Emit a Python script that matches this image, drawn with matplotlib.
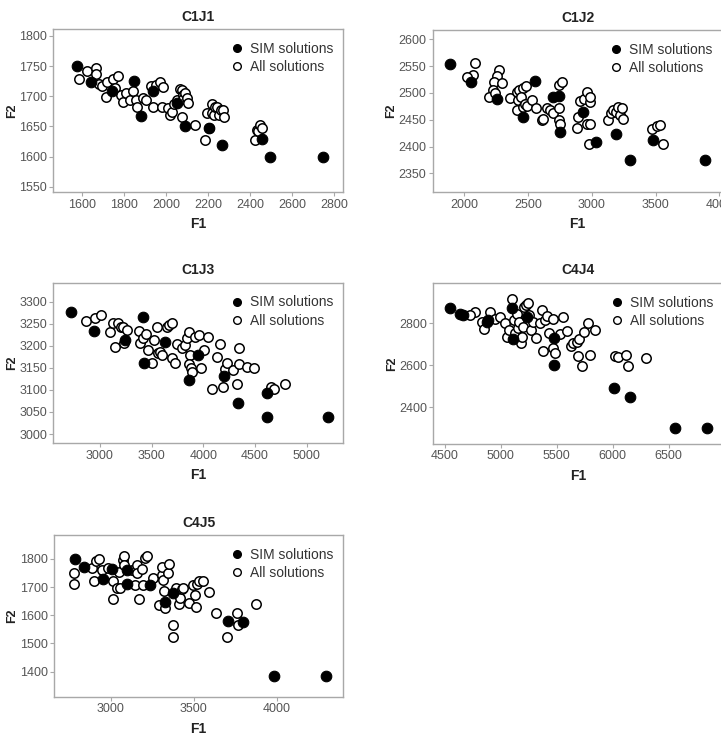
import matplotlib
matplotlib.use("Agg")
import matplotlib.pyplot as plt
from matplotlib.lines import Line2D

plt.rcParams['font.family'] = ['Liberation Sans', 'DejaVu Sans']

# ---------------- C1J1 ----------------
c1j1_sim_f1 = [1576, 1643, 1743, 1849, 1880, 1940, 2051, 2091, 2206, 2265, 2455, 2495, 2745]
c1j1_sim_f2 = [1750, 1723, 1709, 1726, 1668, 1708, 1689, 1650, 1648, 1619, 1629, 1600, 1600]
c1j1_all_f1 = [1587, 1627, 1667, 1667, 1681, 1698, 1716, 1722, 1750, 1774, 1758, 1785, 1798,
               1811, 1830, 1842, 1858, 1864, 1893, 1904, 1928, 1940, 1953, 1972, 1980, 1988,
               2009, 2020, 2028, 2039, 2051, 2067, 2075, 2080, 2083, 2092, 2099, 2107, 2077,
               2138, 2184, 2194, 2206, 2218, 2221, 2229, 2235, 2245, 2254, 2260, 2270, 2276,
               2425, 2431, 2439, 2447, 2455]
c1j1_all_f2 = [1728, 1742, 1747, 1737, 1721, 1717, 1699, 1724, 1728, 1733, 1713, 1703, 1691,
               1706, 1694, 1709, 1694, 1683, 1698, 1694, 1717, 1683, 1719, 1723, 1683, 1715,
               1680, 1669, 1674, 1687, 1694, 1712, 1710, 1703, 1695, 1705, 1698, 1689, 1666,
               1653, 1627, 1672, 1647, 1672, 1687, 1669, 1683, 1682, 1669, 1677, 1678, 1666,
               1627, 1645, 1642, 1652, 1647]

# ---------------- C1J2 ----------------
c1j2_sim_f1 = [1890, 2052, 2256, 2556, 2465, 2699, 2744, 2752, 2934, 3031, 3190, 3300, 3482, 3887]
c1j2_sim_f2 = [2553, 2520, 2488, 2522, 2455, 2493, 2495, 2428, 2465, 2409, 2424, 2376, 2413, 2376]
c1j2_all_f1 = [2086, 2068, 2026, 2277, 2256, 2235, 2295, 2224, 2198, 2243, 2360, 2412, 2433,
               2465, 2483, 2412, 2425, 2446, 2459, 2478, 2491, 2530, 2564, 2608, 2621, 2647,
               2673, 2694, 2746, 2746, 2764, 2744, 2752, 2882, 2895, 2908, 2939, 2960, 2986,
               2986, 2960, 2986, 2981, 3130, 3148, 3169, 3190, 3208, 3221, 3234, 3247, 3472,
               3508, 3534, 3560]
c1j2_all_f2 = [2556, 2533, 2529, 2542, 2531, 2521, 2518, 2506, 2493, 2500, 2490, 2502, 2506,
               2510, 2513, 2468, 2486, 2493, 2474, 2480, 2475, 2486, 2471, 2449, 2452, 2471,
               2468, 2463, 2471, 2514, 2521, 2449, 2442, 2434, 2455, 2485, 2488, 2502, 2483,
               2493, 2442, 2442, 2405, 2450, 2462, 2469, 2465, 2473, 2459, 2471, 2452, 2432,
               2438, 2441, 2405]

# ---------------- C1J3 ----------------
c1j3_sim_f1 = [2716, 2942, 3242, 3413, 3429, 3629, 3865, 3945, 4203, 4339, 4613, 4613, 5210]
c1j3_sim_f2 = [3277, 3234, 3213, 3266, 3162, 3209, 3123, 3179, 3132, 3070, 3092, 3039, 3039]
c1j3_all_f1 = [2865, 2952, 3010, 3097, 3123, 3145, 3177, 3200, 3219, 3258, 3232, 3381, 3387,
               3419, 3442, 3468, 3500, 3523, 3548, 3565, 3581, 3603, 3645, 3671, 3694, 3694,
               3726, 3742, 3790, 3823, 3839, 3865, 3871, 3865, 3877, 3887, 3919, 3958, 3977,
               4006, 4048, 4081, 4129, 4161, 4187, 4210, 4226, 4284, 4323, 4348, 4348, 4419,
               4494, 4652, 4684, 4790]
c1j3_all_f2 = [3256, 3262, 3270, 3232, 3251, 3198, 3251, 3243, 3242, 3236, 3206, 3234, 3206,
               3217, 3227, 3190, 3162, 3213, 3243, 3183, 3187, 3179, 3242, 3247, 3252, 3172,
               3160, 3204, 3194, 3202, 3217, 3232, 3179, 3159, 3149, 3141, 3221, 3224, 3149,
               3190, 3221, 3101, 3175, 3204, 3107, 3147, 3160, 3145, 3113, 3159, 3194, 3151,
               3149, 3107, 3101, 3113]

# ---------------- C4J4 ----------------
c4j4_sim_f1 = [4545, 4634, 4664, 4873, 4888, 5097, 5112, 5231, 5470, 5476, 6013, 6151, 6551, 6837]
c4j4_sim_f2 = [2871, 2844, 2840, 2808, 2816, 2871, 2724, 2832, 2729, 2602, 2490, 2448, 2303, 2303]
c4j4_all_f1 = [4769, 4724, 4828, 4849, 4903, 4948, 4993, 5037, 5052, 5076, 5097, 5118, 5127,
               5142, 5157, 5166, 5178, 5187, 5201, 5207, 5225, 5246, 5255, 5267, 5291, 5315,
               5351, 5366, 5375, 5395, 5410, 5434, 5464, 5464, 5484, 5524, 5554, 5594, 5624,
               5648, 5679, 5694, 5685, 5724, 5739, 5774, 5792, 5837, 6019, 6049, 6122, 6137,
               6300]
c4j4_all_f2 = [2856, 2840, 2808, 2771, 2856, 2819, 2832, 2800, 2737, 2768, 2914, 2816, 2752,
               2844, 2776, 2808, 2705, 2737, 2784, 2879, 2887, 2895, 2840, 2768, 2808, 2729,
               2803, 2863, 2670, 2816, 2835, 2756, 2819, 2681, 2657, 2749, 2832, 2765, 2692,
               2705, 2713, 2724, 2644, 2597, 2760, 2800, 2649, 2768, 2644, 2638, 2649, 2597,
               2637]

# ---------------- C4J5 ----------------
c4j5_sim_f1 = [2785, 2839, 2952, 3006, 3096, 3096, 3237, 3327, 3377, 3709, 3795, 3984, 4297]
c4j5_sim_f2 = [1800, 1773, 1729, 1764, 1761, 1710, 1708, 1648, 1678, 1578, 1575, 1385, 1385]
c4j5_all_f1 = [2779, 2779, 2886, 2900, 2912, 2932, 2946, 2986, 3016, 3016, 3036, 3052, 3058,
               3072, 3080, 3080, 3127, 3147, 3157, 3159, 3173, 3187, 3197, 3207, 3221, 3253,
               3293, 3307, 3307, 3317, 3319, 3327, 3347, 3353, 3373, 3377, 3393, 3414, 3418,
               3428, 3438, 3474, 3494, 3508, 3514, 3518, 3535, 3554, 3594, 3635, 3699, 3759,
               3765, 3876]
c4j5_all_f2 = [1749, 1710, 1767, 1720, 1793, 1800, 1761, 1769, 1720, 1658, 1696, 1753, 1696,
               1796, 1812, 1779, 1761, 1708, 1779, 1749, 1658, 1764, 1708, 1805, 1812, 1731,
               1637, 1743, 1773, 1725, 1686, 1625, 1749, 1781, 1566, 1524, 1696, 1639, 1663,
               1694, 1696, 1643, 1708, 1672, 1631, 1710, 1720, 1720, 1682, 1607, 1524, 1607,
               1566, 1639]

titles = ["C1J1", "C1J2", "C1J3", "C4J4", "C4J5"]
legend_labels = ["SIM solutions", "All solutions"]

panels = [
    dict(sim=(c1j1_sim_f1, c1j1_sim_f2), all=(c1j1_all_f1, c1j1_all_f2),
         xlim=(1465, 2843), ylim=(1541, 1811),
         xticks=[1600, 1800, 2000, 2200, 2400, 2600, 2800],
         yticks=[1550, 1600, 1650, 1700, 1750, 1800],
         rect=[53.3, 29.3, 290, 163]),
    dict(sim=(c1j2_sim_f1, c1j2_sim_f2), all=(c1j2_all_f1, c1j2_all_f2),
         xlim=(1755, 4026), ylim=(2315, 2617),
         xticks=[2000, 2500, 3000, 3500, 4000],
         yticks=[2350, 2400, 2450, 2500, 2550, 2600],
         rect=[432.7, 30.0, 290, 162.3]),
    dict(sim=(c1j3_sim_f1, c1j3_sim_f2), all=(c1j3_all_f1, c1j3_all_f2),
         xlim=(2548, 5355), ylim=(2979, 3343),
         xticks=[3000, 3500, 4000, 4500, 5000],
         yticks=[3000, 3050, 3100, 3150, 3200, 3250, 3300],
         rect=[53.3, 282.7, 290, 160.6]),
    dict(sim=(c4j4_sim_f1, c4j4_sim_f2), all=(c4j4_all_f1, c4j4_all_f2),
         xlim=(4396, 6987), ylim=(2225, 2994),
         xticks=[4500, 5000, 5500, 6000, 6500],
         yticks=[2400, 2600, 2800],
         rect=[433.3, 282.7, 290, 161.3]),
    dict(sim=(c4j5_sim_f1, c4j5_sim_f2), all=(c4j5_all_f1, c4j5_all_f2),
         xlim=(2659, 4402), ylim=(1311, 1885),
         xticks=[3000, 3500, 4000],
         yticks=[1400, 1500, 1600, 1700, 1800],
         rect=[54.0, 535.0, 289.3, 161.7]),
]

W, H = 721, 747
fig = plt.figure(figsize=(W / 100, H / 100), dpi=100)

frame_col = "#a8a8a8"
tick_col = "#555555"

for title, p in zip(titles, panels):
    x0, y0, w, h = p["rect"]
    ax = fig.add_axes([x0 / W, 1 - (y0 + h) / H, w / W, h / H])
    ax.scatter(*p["all"], s=46, facecolors="white", edgecolors="black",
               linewidths=1.1, zorder=2)
    ax.scatter(*p["sim"], s=58, facecolors="black", edgecolors="black",
               linewidths=0.8, zorder=3)
    ax.set_xlim(*p["xlim"])
    ax.set_ylim(*p["ylim"])
    ax.set_xticks(p["xticks"])
    ax.set_yticks(p["yticks"])
    for sp in ax.spines.values():
        sp.set_color(frame_col)
        sp.set_linewidth(1.0)
    ax.tick_params(direction="out", length=3, width=0.8, color=frame_col,
                   labelcolor=tick_col, labelsize=9, pad=1.5)
    ax.set_title(title, fontsize=10, fontweight="bold", color="#222222", pad=6)
    ax.set_xlabel("F1", fontsize=10, fontweight="bold", color="#222222", labelpad=5)
    ax.set_ylabel("F2", fontsize=9, fontweight="bold", color="#222222", labelpad=1)
    handles = [
        Line2D([], [], linestyle="none", marker="o", markersize=5.5,
               markerfacecolor="black", markeredgecolor="black"),
        Line2D([], [], linestyle="none", marker="o", markersize=5.5,
               markerfacecolor="white", markeredgecolor="black", markeredgewidth=1.0),
    ]
    ax.legend(handles, legend_labels, loc="upper left", bbox_to_anchor=(0.59, 0.955),
              frameon=False, fontsize=10, handlelength=1.0, handletextpad=0.45,
              labelspacing=0.3, borderaxespad=0.0, labelcolor="#333333")

fig.savefig("out.png", dpi=100)
